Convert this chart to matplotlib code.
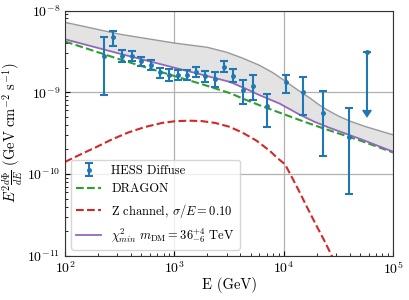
import numpy as np
import matplotlib
matplotlib.use("Agg")
import matplotlib.pyplot as plt
from matplotlib.ticker import NullFormatter

plt.rcParams['font.family'] = ['cmr10']
plt.rcParams['mathtext.fontset'] = 'cm'
plt.rcParams['axes.formatter.use_mathtext'] = True

# HESS diffuse data points
hess_E = [229, 277, 334, 406, 499, 607, 734, 898, 1086, 1304, 1585, 1905,
          2366, 2860, 3457, 4208, 5197, 7018, 10400, 14960, 22800, 39400]
hess_F = [2.78e-9, 4.73e-9, 2.78e-9, 2.78e-9, 2.39e-9, 2.15e-9, 1.75e-9, 1.64e-9,
          1.64e-9, 1.64e-9, 1.77e-9, 1.58e-9, 1.44e-9, 2.05e-9, 1.58e-9, 1.08e-9,
          1.20e-9, 6.71e-10, 1.33e-9, 1.01e-9, 5.66e-10, 2.88e-10]
hess_hi = [4.73e-9, 5.66e-9, 3.30e-9, 3.24e-9, 2.73e-9, 2.48e-9, 2.00e-9, 1.90e-9,
           1.87e-9, 1.88e-9, 2.04e-9, 1.83e-9, 1.75e-9, 2.41e-9, 1.90e-9, 1.42e-9,
           1.64e-9, 9.44e-10, 1.64e-9, 1.52e-9, 1.04e-9, 6.40e-10]
hess_lo = [9.27e-10, 3.73e-9, 2.33e-9, 2.42e-9, 2.09e-9, 1.87e-9, 1.48e-9, 1.37e-9,
           1.41e-9, 1.40e-9, 1.52e-9, 1.34e-9, 1.15e-9, 1.78e-9, 1.32e-9, 7.11e-10,
           7.96e-10, 3.80e-10, 9.73e-10, 5.35e-10, 1.66e-10, 5.71e-11]
# upper limit
ul_E = [57500]
ul_F = [3.09e-9]
ul_lo = [6.0e-10]

# DRAGON model
dragon_E = [100, 331, 1000, 1778, 3220, 4467, 6050, 9230, 14060, 22900, 50120, 100000]
dragon_F = [4.18e-9, 2.48e-9, 1.58e-9, 1.26e-9, 9.77e-10, 8.13e-10, 6.92e-10, 5.62e-10,
            4.57e-10, 3.63e-10, 2.57e-10, 1.84e-10]

# chi2 min model (also lower edge of band)
chi_E = [100, 331, 1000, 1995, 3220, 4467, 6050, 9230, 11480, 14060, 19050, 26400,
         32700, 50120, 100000]
chi_F = [4.45e-9, 2.92e-9, 2.0e-9, 1.58e-9, 1.34e-9, 1.11e-9, 9.2e-10, 7.25e-10,
         6.17e-10, 5.31e-10, 4.37e-10, 3.67e-10, 3.31e-10, 2.69e-10, 1.88e-10]

# band upper edge
band_E = [100, 316, 1000, 1995, 3000, 4169, 6000, 7943, 10000, 12190, 14125, 17380,
          20890, 24550, 31620, 39810, 56230, 100000]
band_F = [7.17e-9, 5.13e-9, 4.0e-9, 3.55e-9, 3.09e-9, 2.63e-9, 2.14e-9, 1.74e-9,
          1.41e-9, 1.17e-9, 1.02e-9, 8.51e-10, 7.08e-10, 6.17e-10, 5.13e-10, 4.47e-10,
          3.80e-10, 3.02e-10]

# Z channel
z_E = [100, 141, 189, 269, 382, 537, 771, 1000, 1352, 1778, 2366, 3162, 4150, 5623,
       7480, 8710, 10260, 11480, 13130, 14450, 16200, 17780, 20000, 23440, 28300]
z_F = [1.41e-10, 1.76e-10, 2.11e-10, 2.66e-10, 3.24e-10, 3.76e-10, 4.22e-10, 4.42e-10,
       4.5e-10, 4.45e-10, 4.22e-10, 3.80e-10, 3.24e-10, 2.57e-10, 1.92e-10, 1.58e-10,
       1.32e-10, 1.0e-10, 7.08e-11, 5.5e-11, 4.03e-11, 3.16e-11, 2.32e-11, 1.55e-11,
       9.3e-12]

fig = plt.figure(figsize=(4.09, 3.0), dpi=100)
ax = fig.add_axes([0.159, 0.147, 0.802, 0.818])
ax.set_xscale('log')
ax.set_yscale('log')

band_lo = np.interp(np.log10(band_E), np.log10(chi_E), np.log10(chi_F))
ax.fill_between(band_E, 10**band_lo, band_F, color='#e3e3e3', lw=0, zorder=1)
ax.plot(band_E, band_F, color='#999999', lw=1.0, zorder=1.5)

ax.plot(dragon_E, dragon_F, '--', color='#2ca02c', lw=1.5, label='DRAGON', zorder=2)
ax.plot(z_E, z_F, '--', color='#d62728', lw=1.5, label=r'Z channel, $\sigma/E = 0.10$', zorder=2)
ax.plot(chi_E, chi_F, '-', color='#9467bd', lw=1.3,
        label=r'$\chi^2_{min}\ m_{\rm DM} = 36^{+4}_{-6}$ TeV', zorder=2.5)

hF = np.array(hess_F)
yerr = [hF - np.array(hess_lo), np.array(hess_hi) - hF]
ax.errorbar(hess_E, hess_F, yerr=yerr, fmt='o', color='#1f77b4', ms=2.5,
            capsize=3, elinewidth=1.5, capthick=1.5, label='HESS Diffuse', zorder=3)
uF = np.array(ul_F)
ax.errorbar(ul_E, ul_F, yerr=[uF - np.array(ul_lo), [0]], fmt='o', color='#1f77b4',
            ms=2.5, capsize=3, elinewidth=1.5, capthick=1.5, uplims=True, zorder=3)

ax.set_xlim(1e2, 1e5)
ax.set_ylim(1e-11, 1e-8)
ax.xaxis.set_minor_formatter(NullFormatter())
ax.yaxis.set_minor_formatter(NullFormatter())
ax.grid(True, which='major', color='#b0b0b0', lw=0.9)
ax.set_axisbelow(True)
ax.tick_params(which='both', direction='in', top=False, right=False, labelsize=10)
for s in ax.spines.values():
    s.set_color('#333333')

ax.set_xlabel('E (GeV)', fontsize=10.5, labelpad=0)
ax.set_ylabel(r'$E^2\frac{d\Phi}{dE}\ (\mathrm{GeV\ cm^{-2}\ s^{-1}})$', fontsize=10.5, labelpad=1)

h, l = ax.get_legend_handles_labels()
order = [l.index('HESS Diffuse'), l.index('DRAGON'),
         l.index(r'Z channel, $\sigma/E = 0.10$'),
         l.index(r'$\chi^2_{min}\ m_{\rm DM} = 36^{+4}_{-6}$ TeV')]
ax.legend([h[i] for i in order], [l[i] for i in order], loc='lower left', fontsize=9)

fig.savefig('out.png', dpi=100)
